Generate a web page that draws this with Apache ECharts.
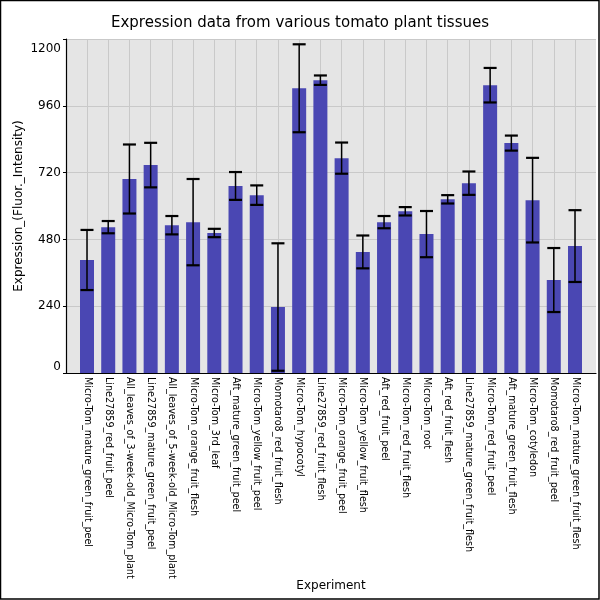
<!DOCTYPE html>
<html>
	<head>
		<meta charset="utf-8">
		<title></title>
		<script src="https://cdn.jsdelivr.net/npm/echarts@6/dist/echarts.min.js"></script>
		<style>
			html, body { margin: 0; padding: 0; background: #fff; }
		</style>
	</head>
	<body>
		<div id="main" style="width: 600px;height:600px;"></div>
		<script>
			var categories = ['Micro-Tom_mature_green_fruit_peel', 'Line27859_red_fruit_peel', 'All_leaves_of_3-week-old_Micro-Tom_plant',
				'Line27859_mature_green_fruit_peel', 'All_leaves_of_5-week-old_Micro-Tom_plant', 'Micro-Tom_orange_fruit_flesh',
				'Micro-Tom_3rd_leaf', 'Aft_mature_green_fruit_peel', 'Micro-Tom_yellow_fruit_peel', 'Momotaro8_red_fruit_flesh',
				'Micro-Tom_hypocotyl', 'Line27859_red_fruit_flesh', 'Micro-Tom_orange_fruit_peel', 'Micro-Tom_yellow_fruit_flesh',
				'Aft_red_fruit_peel', 'Micro-Tom_red_fruit_flesh', 'Micro-Tom_root', 'Aft_red_fruit_flesh',
				'Line27859_mature_green_fruit_flesh', 'Micro-Tom_red_fruit_peel', 'Aft_mature_green_fruit_flesh',
				'Micro-Tom_cotyledon', 'Momotaro8_red_fruit_peel', 'Micro-Tom_mature_green_fruit_flesh'];
			var values = [406, 524, 697, 747, 531, 542, 503, 672, 639, 237, 1023, 1052,
				772, 435, 542, 581, 499, 624, 682, 1034, 826, 621, 334, 456];
			var errors = [108, 22, 124, 80, 33, 155, 15, 50, 35, 229, 158, 17,
				56, 59, 22, 15, 83, 15, 42, 62, 27, 152, 115, 129];
			var yTicks = [0, 240, 480, 720, 960, 1200];

			var myChart = echarts.init(document.getElementById('main'));

			var font = 'DejaVu Sans';
			var gridColor = '#c9c9c9';

			var option = {
				backgroundColor: '#ffffff',
				animation: false,
				textStyle: { fontFamily: font },
				title: {
					text: 'Expression data from various tomato plant tissues',
					left: 'center',
					top: 11,
					textStyle: {
						color: '#000',
						fontSize: 15,
						fontWeight: 'normal',
						fontFamily: font
					}
				},
				graphic: [{
					type: 'rect',
					shape: { x: 0.5, y: 0.5, width: 598.5, height: 598.5 },
					style: { fill: 'none', stroke: '#000', lineWidth: 1.5 },
					silent: true
				}],
				grid: [{
					// plot background
					left: 66, right: 4, top: 39, bottom: 227,
					show: true,
					backgroundColor: '#e5e5e5',
					borderWidth: 0
				}, {
					// bars, inset half a band on each side
					left: 87, right: 25, top: 39, bottom: 227
				}],
				xAxis: [{
					gridIndex: 0,
					type: 'value',
					min: 0, max: 1,
					name: 'Experiment',
					nameLocation: 'middle',
					nameGap: 207,
					nameMoveOverlap: false,
					nameTextStyle: { color: '#000', fontSize: 12, fontFamily: font },
					axisLine: { show: true, lineStyle: { color: '#000', width: 1.2 } },
					axisTick: { show: false },
					axisLabel: { show: false },
					splitLine: { show: false }
				}, {
					gridIndex: 1,
					type: 'category',
					data: categories,
					boundaryGap: false,
					axisLine: { show: false },
					axisTick: { show: false },
					axisLabel: {
						interval: 0,
						rotate: -90,
						margin: 4,
						color: '#000',
						fontSize: 9.6,
						fontFamily: font
					},
					splitLine: { show: true, lineStyle: { color: gridColor, width: 1 } }
				}],
				yAxis: [{
					gridIndex: 0,
					type: 'value',
					min: yTicks[0],
					max: yTicks[yTicks.length - 1],
					interval: 240,
					name: 'Expression_(Fluor._Intensity)',
					nameLocation: 'middle',
					nameGap: 41,
					nameMoveOverlap: false,
					nameTextStyle: { color: '#000', fontSize: 12, fontFamily: font },
					axisLine: { show: true, lineStyle: { color: '#000', width: 1.2 } },
					axisTick: { show: true, length: 3, lineStyle: { color: '#000' } },
					axisLabel: {
						color: '#000',
						fontSize: 12,
						fontFamily: font,
						margin: 5,
						formatter: function(v) {
							return v === yTicks[yTicks.length - 1] ? '{top|' + v + '}' : String(v);
						},
						rich: {
							top: { fontSize: 12, fontFamily: font, color: '#000', padding: [4, 0, 0, 0] }
						},
						verticalAlignMinLabel: 'bottom',
						verticalAlignMaxLabel: 'top'
					},
					splitLine: { show: true, lineStyle: { color: gridColor, width: 1 } }
				}, {
					gridIndex: 1,
					type: 'value',
					min: yTicks[0],
					max: yTicks[yTicks.length - 1],
					show: false,
					splitLine: { show: false }
				}],
				series: [{
					type: 'bar',
					xAxisIndex: 1,
					yAxisIndex: 1,
					barWidth: 14,
					itemStyle: { color: '#4a47b3' },
					data: values
				}, {
					type: 'custom',
					xAxisIndex: 1,
					yAxisIndex: 1,
					data: values.map(function(v, i) { return [i, v - errors[i], v + errors[i]]; }),
					renderItem: function(params, api) {
						var lo = api.coord([api.value(0), api.value(1)]);
						var hi = api.coord([api.value(0), api.value(2)]);
						var half = 6.5;
						var st = { stroke: '#000', lineWidth: 1.5 };
						var cap = { stroke: '#000', lineWidth: 2.2 };
						return {
							type: 'group',
							children: [{
								type: 'line',
								shape: { x1: hi[0], y1: hi[1], x2: lo[0], y2: lo[1] },
								style: st
							}, {
								type: 'line',
								shape: { x1: hi[0] - half, y1: hi[1], x2: hi[0] + half, y2: hi[1] },
								style: cap
							}, {
								type: 'line',
								shape: { x1: lo[0] - half, y1: lo[1], x2: lo[0] + half, y2: lo[1] },
								style: cap
							}]
						};
					},
					z: 5
				}]
			};

			myChart.setOption(option);
		</script>
	</body>
</html>
